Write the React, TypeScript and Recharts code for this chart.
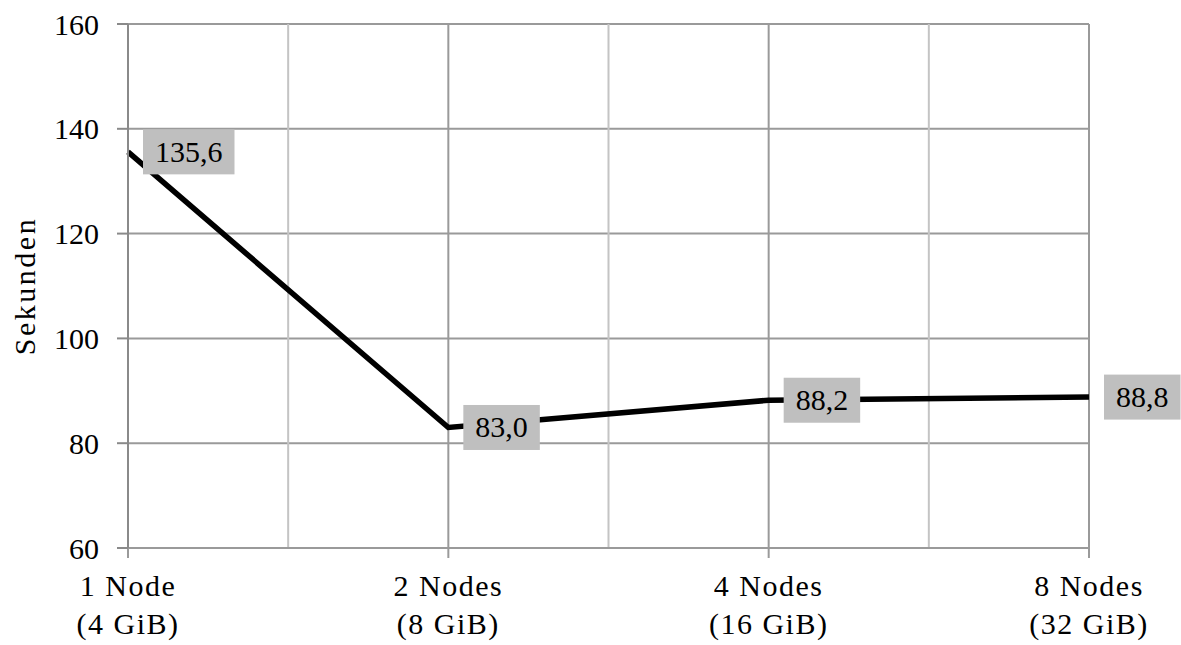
import { CartesianGrid, LabelList, Line, LineChart, ReferenceLine, XAxis, YAxis } from 'recharts';

const nodeLabels = ['1 Node', '2 Nodes', '4 Nodes', '8 Nodes'];
const memoryLabels = ['(4 GiB)', '(8 GiB)', '(16 GiB)', '(32 GiB)'];
const seconds = [135.6, 83.0, 88.2, 88.8];
const yTicks = [60, 80, 100, 120, 140, 160];
const xTicks = [0, 1, 2, 3];
const minorX = [0.5, 1.5, 2.5];

const data = seconds.map((value, i) => ({ x: i, value }));

const FONT = '"Liberation Serif", "Times New Roman", serif';
const MAJOR = '#9a9a9a';
const MINOR = '#c4c4c4';

const fmt = (v: number) => v.toFixed(1).replace('.', ',');

function NodeTick(props: any) {
  const { x, y, payload } = props;
  const i = payload.value;
  return (
    <text
      x={x}
      y={y}
      textAnchor="middle"
      fontFamily={FONT}
      fontSize={30}
      letterSpacing={1.5}
      fill="#000"
    >
      <tspan x={x} dy={36}>
        {nodeLabels[i]}
      </tspan>
      <tspan x={x} dy={38}>
        {memoryLabels[i]}
      </tspan>
    </text>
  );
}

function ValueBox(props: any) {
  const { x, y, value } = props;
  const label = fmt(value);
  const w = label.replace(',', '').length * 15 + 7.5 + 24;
  const h = 45;
  const left = x + 15;
  return (
    <g>
      <rect x={left} y={y - h / 2} width={w} height={h} fill="#bfbfbf" />
      <text
        x={left + w / 2}
        y={y + 10}
        textAnchor="middle"
        fontFamily={FONT}
        fontSize={30}
        fill="#000"
      >
        {label}
      </text>
    </g>
  );
}

export default function App() {
  return (
    <div style={{ position: 'absolute', left: 0, top: 0, background: '#fff' }}>
      <LineChart
        width={1181}
        height={645}
        data={data}
        margin={{ top: 24, right: 92, left: 0, bottom: 0 }}
      >
        <CartesianGrid stroke={MAJOR} strokeWidth={2} />
        {minorX.map(v => (
          <ReferenceLine key={v} x={v} stroke={MINOR} strokeWidth={2} />
        ))}
        <XAxis
          dataKey="x"
          type="number"
          domain={[0, 3]}
          ticks={xTicks}
          interval={0}
          stroke={MAJOR}
          strokeWidth={2}
          tickSize={10}
          tickMargin={2}
          height={97}
          tick={<NodeTick />}
        />
        <YAxis
          domain={[60, 160]}
          ticks={yTicks}
          interval={0}
          width={128}
          stroke="#8a8a8a"
          strokeWidth={2}
          tickSize={11}
          tickMargin={18}
          tick={{ fontFamily: FONT, fontSize: 30, fill: '#000' }}
          label={{
            value: 'Sekunden',
            angle: -90,
            position: 'insideLeft',
            dx: 19,
            style: { fontFamily: FONT, fontSize: 30, fill: '#000', letterSpacing: 2.5, textAnchor: 'middle' },
          }}
        />
        <Line
          dataKey="value"
          type="linear"
          stroke="#000"
          strokeWidth={5.5}
          dot={false}
          isAnimationActive={false}
        >
          <LabelList dataKey="value" content={<ValueBox />} />
        </Line>
      </LineChart>
    </div>
  );
}
